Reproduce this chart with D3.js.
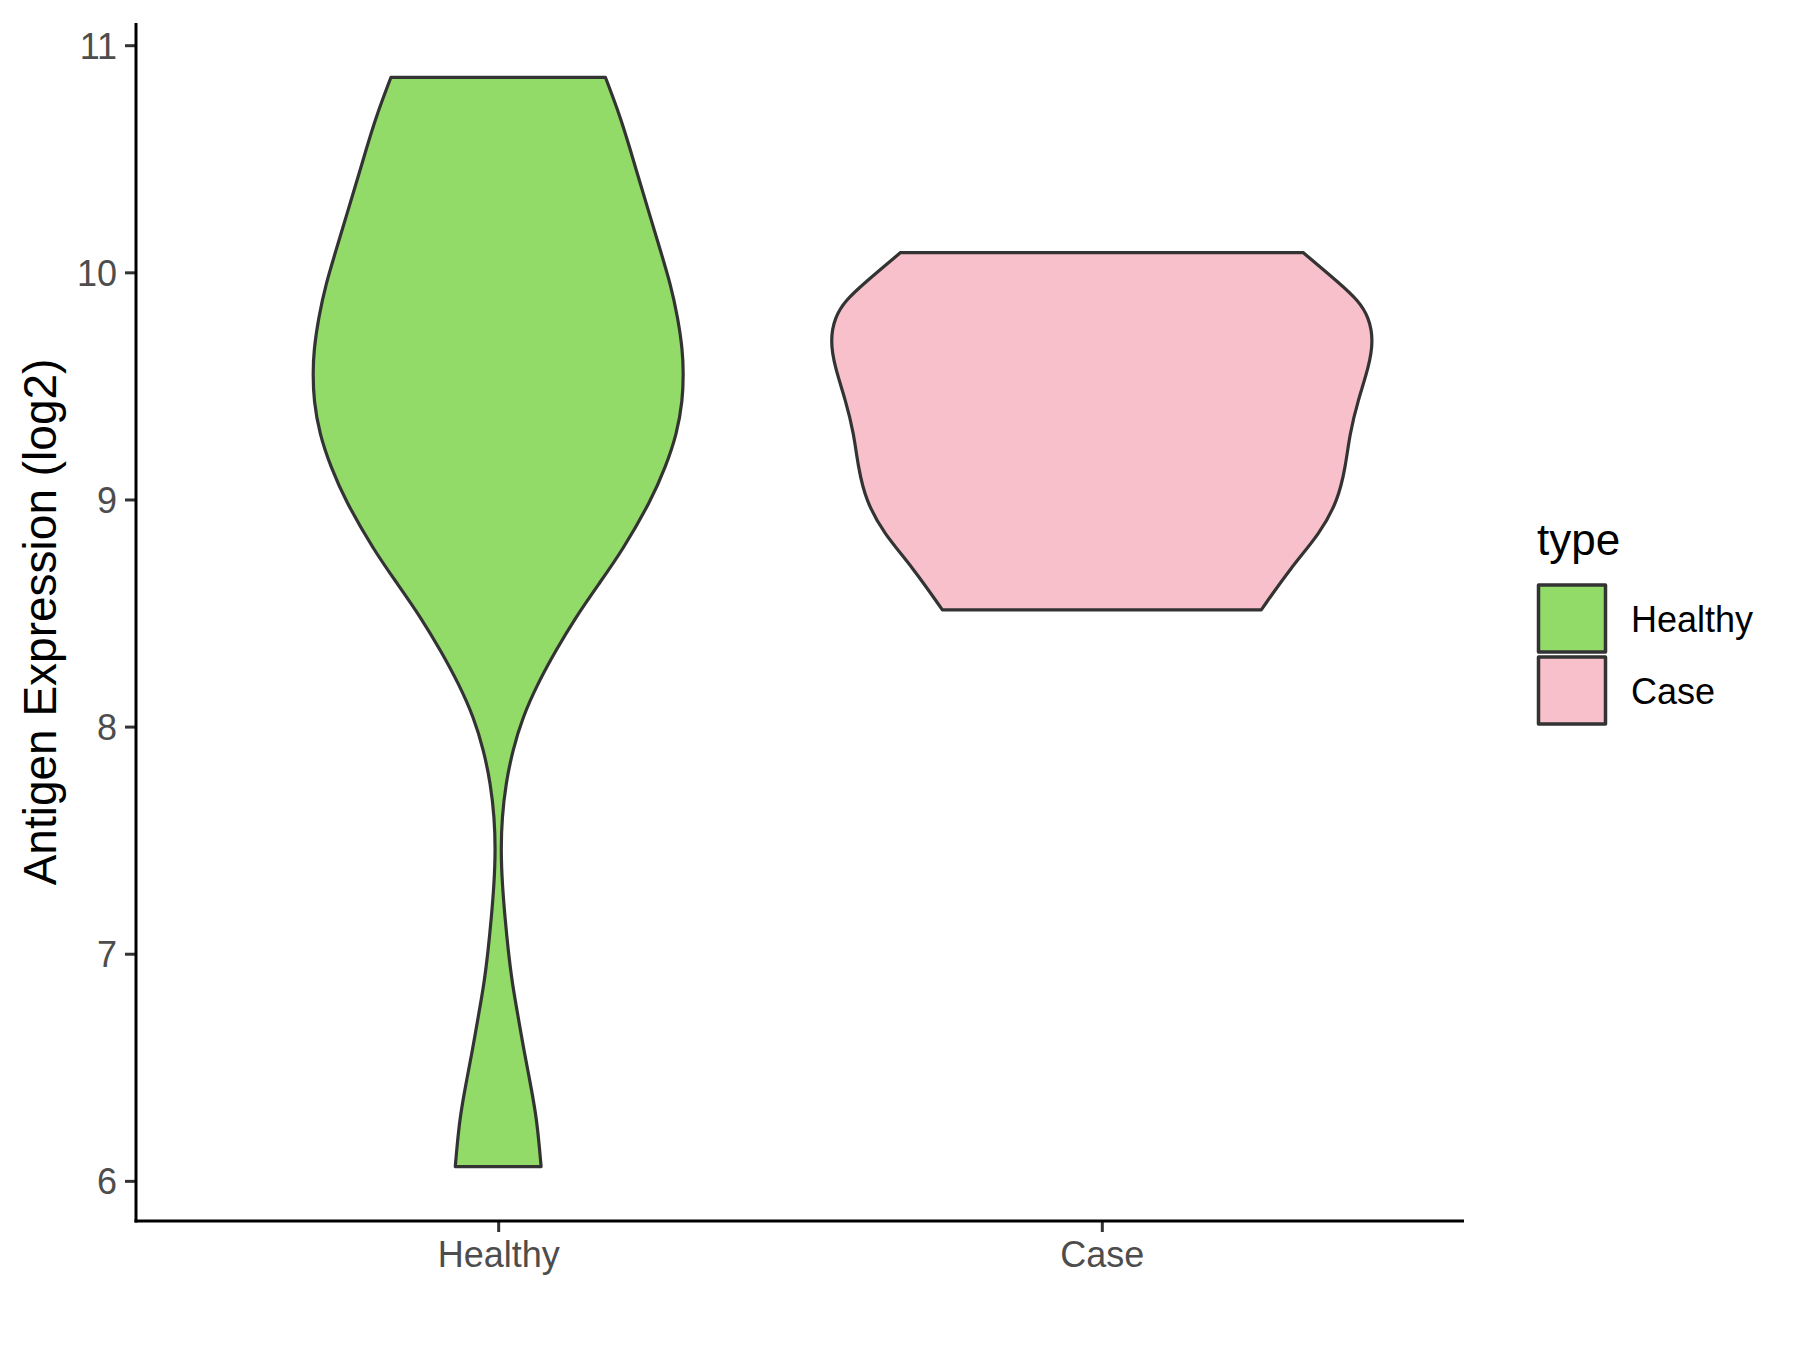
<!DOCTYPE html>
<html>
<head>
<meta charset="utf-8">
<script src="https://cdn.jsdelivr.net/npm/d3@7"></script>
<style>
  body { margin: 0; background: #fff; }
  text { font-family: "Liberation Sans", Arial, sans-serif; }
</style>
</head>
<body>
<svg class="chart" width="1800" height="1350"></svg>
<script>
const categories = ['Healthy', 'Case'];
const fills = ['#93DB69', '#F7C0CB'];
const yTicks = [6, 7, 8, 9, 10, 11];

// violin outlines: expression value and relative width (1 = widest violin)
const healthyY = [6.063, 6.132, 6.279, 6.426, 6.573, 6.719, 6.867, 7.013, 7.160, 7.307, 7.454, 7.600, 7.748,
  7.894, 8.041, 8.188, 8.335, 8.481, 8.629, 8.775, 8.996, 9.142, 9.289, 9.436, 9.554, 9.656, 9.803, 9.950,
  10.097, 10.244, 10.391, 10.537, 10.684, 10.858];
const healthyWidth = [0.158, 0.153, 0.141, 0.119, 0.095, 0.074, 0.052, 0.037, 0.025, 0.015, 0.010, 0.014, 0.028,
  0.053, 0.090, 0.145, 0.212, 0.285, 0.371, 0.457, 0.563, 0.616, 0.658, 0.679, 0.682, 0.679, 0.661, 0.634,
  0.597, 0.560, 0.523, 0.487, 0.450, 0.395];
const caseY = [8.514, 8.702, 8.850, 8.996, 9.142, 9.291, 9.436, 9.583, 9.700, 9.803, 9.877, 9.950, 10.087];
const caseWidth = [0.587, 0.697, 0.803, 0.869, 0.897, 0.913, 0.943, 0.983, 1.000, 0.983, 0.943, 0.877, 0.741];

const violins = [
  { type: 'Healthy', ys: healthyY, ws: healthyWidth },
  { type: 'Case', ys: caseY, ws: caseWidth },
];

const margin = { top: 23, right: 336, bottom: 129, left: 136 };
const width = 1800 - margin.left - margin.right;
const height = 1350 - margin.top - margin.bottom;

const svg = d3.select('.chart');
svg.append('rect').attr('width', 1800).attr('height', 1350).attr('fill', '#fff');
const g = svg.append('g').attr('transform', `translate(${margin.left}, ${margin.top})`);

// ggplot-style 5% expansion around the data range
const allY = healthyY.concat(caseY);
const [yMin, yMax] = d3.extent(allY);
const pad = (yMax - yMin) * 0.05;
const y = d3.scaleLinear().domain([yMin - pad, yMax + pad]).range([height, 0]);
const x = d3.scalePoint().domain(categories).range([0, width]).padding(0.6);
const color = d3.scaleOrdinal().domain(categories).range(fills);
const halfMax = x.step() * 0.45;

const area = d3.area()
  .curve(d3.curveBasis)
  .y(d => y(d.v))
  .x0(d => d.cx - d.w * halfMax)
  .x1(d => d.cx + d.w * halfMax);

g.append('g')
  .selectAll('path')
  .data(violins)
  .enter()
  .append('path')
  .attr('d', d => area(d.ys.map((v, i) => ({ v, w: d.ws[i], cx: x(d.type) }))))
  .attr('fill', d => color(d.type))
  .attr('stroke', '#333333')
  .attr('stroke-width', 3.2)
  .attr('stroke-linejoin', 'round');

// axes
const yAxis = g.append('g')
  .call(d3.axisLeft(y).tickValues(yTicks).tickSize(11).tickPadding(8).tickFormat(d3.format('d')));
const xAxis = g.append('g')
  .attr('transform', `translate(0, ${height})`)
  .call(d3.axisBottom(x).tickSize(11).tickPadding(8));

[yAxis, xAxis].forEach((ax) => {
  ax.select('.domain').remove();
  ax.selectAll('.tick line').attr('stroke', '#333333').attr('stroke-width', 3);
  ax.selectAll('.tick text')
    .attr('fill', '#4D4D4D')
    .attr('font-size', 36)
    .attr('font-family', '"Liberation Sans", Arial, sans-serif');
});
yAxis.selectAll('.tick text').attr('dy', '0.36em');
xAxis.selectAll('.tick text').attr('dy', '0.74em');

g.append('line')
  .attr('x1', 0).attr('x2', 0).attr('y1', 0).attr('y2', height + 1.5)
  .attr('stroke', '#000').attr('stroke-width', 3);
g.append('line')
  .attr('x1', -1.5).attr('x2', width).attr('y1', height).attr('y2', height)
  .attr('stroke', '#000').attr('stroke-width', 3);

svg.append('text')
  .attr('transform', `translate(56, ${margin.top + height / 2}) rotate(-90)`)
  .attr('text-anchor', 'middle')
  .attr('font-size', 46)
  .attr('fill', '#000')
  .text('Antigen Expression (log2)');

// legend
const legend = svg.append('g').attr('transform', 'translate(1537, 555)');
legend.append('text')
  .attr('x', 0).attr('y', 0)
  .attr('font-size', 44)
  .attr('fill', '#000')
  .text('type');

const items = legend.selectAll('.item')
  .data(categories)
  .enter()
  .append('g')
  .attr('class', 'item')
  .attr('transform', (d, i) => `translate(0, ${30 + i * 72})`);

items.append('rect')
  .attr('x', 1.5).attr('y', 0)
  .attr('width', 67).attr('height', 67)
  .attr('fill', d => color(d))
  .attr('stroke', '#333333')
  .attr('stroke-width', 3.5)
  .attr('stroke-linejoin', 'round');

items.append('text')
  .attr('x', 94).attr('y', 34)
  .attr('dy', '0.36em')
  .attr('font-size', 36)
  .attr('fill', '#000')
  .text(d => d);
</script>
</body>
</html>
